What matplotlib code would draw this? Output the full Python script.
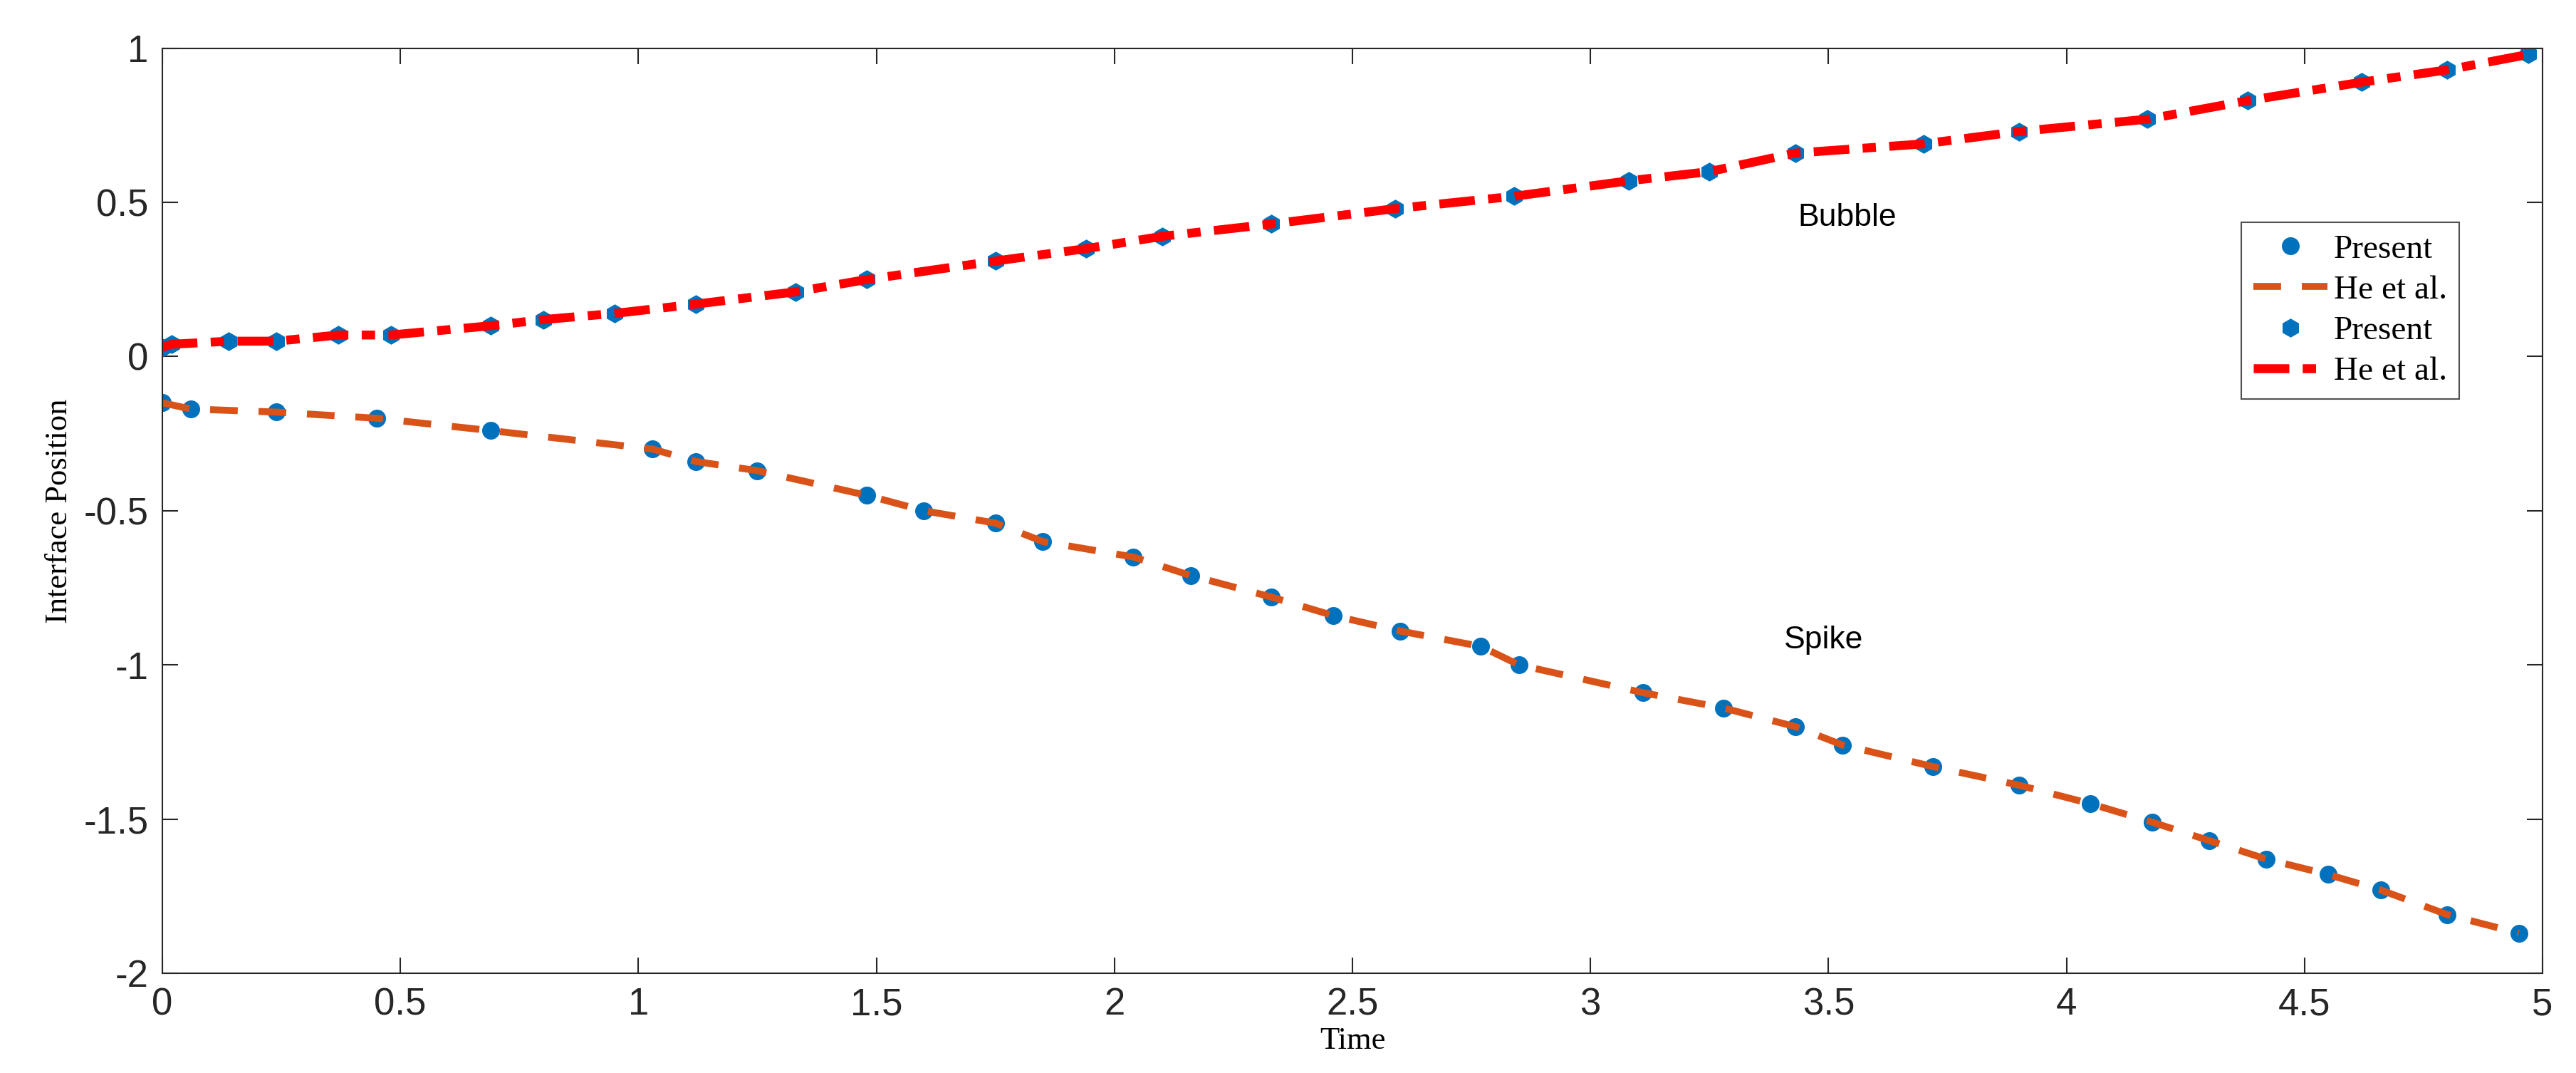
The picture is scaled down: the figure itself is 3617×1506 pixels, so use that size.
import matplotlib
matplotlib.use("Agg")
import matplotlib.pyplot as plt

# bubble front (upper curve)
t_bub = [0.0, 0.02, 0.14, 0.24, 0.37, 0.48, 0.69, 0.8, 0.95, 1.12, 1.33, 1.48, 1.75, 1.94,
         2.1, 2.33, 2.59, 2.84, 3.08, 3.25, 3.43, 3.7, 3.9, 4.17, 4.38, 4.62, 4.8, 4.97]
y_bub = [0.03, 0.04, 0.05, 0.05, 0.07, 0.07, 0.10, 0.12, 0.14, 0.17, 0.21, 0.25, 0.31, 0.35,
         0.39, 0.43, 0.48, 0.52, 0.57, 0.60, 0.66, 0.69, 0.73, 0.77, 0.83, 0.89, 0.93, 0.98]
# spike front (lower curve)
t_spk = [0.0, 0.06, 0.24, 0.45, 0.69, 1.03, 1.12, 1.25, 1.48, 1.6, 1.75, 1.85, 2.04, 2.16,
         2.33, 2.46, 2.6, 2.77, 2.85, 3.11, 3.28, 3.43, 3.53, 3.72, 3.9, 4.05, 4.18, 4.3,
         4.42, 4.55, 4.66, 4.8, 4.95]
y_spk = [-0.15, -0.17, -0.18, -0.2, -0.24, -0.3, -0.34, -0.37, -0.45, -0.5, -0.54, -0.6,
         -0.65, -0.71, -0.78, -0.84, -0.89, -0.94, -1.0, -1.09, -1.14, -1.2, -1.26, -1.33,
         -1.39, -1.45, -1.51, -1.57, -1.63, -1.68, -1.73, -1.81, -1.87]

BLUE = "#0072BD"; ORANGE = "#D95319"; RED = "#FF0000"

fig = plt.figure(figsize=(36.17, 15.06), dpi=100)
ax = fig.add_axes([0.063, 0.093, 0.924, 0.862])

ax.plot(t_spk, y_spk, "o", color=BLUE, ms=17, label="Present")
ax.plot(t_spk, y_spk, "--", color=ORANGE, lw=7, dashes=(4, 3), label="He et al.")
ax.plot(t_bub, y_bub, "h", color=BLUE, ms=18, label="Present")
ax.plot(t_bub, y_bub, "-.", color=RED, lw=9, dashes=(4, 1.5, 1.5, 1.5), label="He et al.")

ax.set_xlim(0, 5); ax.set_ylim(-2, 1)
ax.set_xticks([0, 0.5, 1, 1.5, 2, 2.5, 3, 3.5, 4, 4.5, 5])
ax.set_xticklabels(["0", "0.5", "1", "1.5", "2", "2.5", "3", "3.5", "4", "4.5", "5"])
ax.set_yticks([-2, -1.5, -1, -0.5, 0, 0.5, 1])
ax.set_yticklabels(["-2", "-1.5", "-1", "-0.5", "0", "0.5", "1"])
ax.tick_params(labelsize=38, direction="in", length=16, width=1.5, colors="#262626",
               top=True, right=True, pad=14)
for lab in ax.get_xticklabels() + ax.get_yticklabels():
    lab.set_fontfamily("Liberation Sans")
for s in ax.spines.values():
    s.set_linewidth(1.5); s.set_color("#262626")

ax.set_xlabel("Time", fontsize=32, family="Liberation Serif", labelpad=4)
ax.set_ylabel("Interface Position", fontsize=32, family="Liberation Serif", labelpad=10)

ax.text(3.54, 0.45, "Bubble", fontsize=32, family="Liberation Sans", ha="center", va="center")
ax.text(3.49, -0.92, "Spike", fontsize=32, family="Liberation Sans", ha="center", va="center")

leg = ax.legend(loc="upper right", bbox_to_anchor=(0.972, 0.83), fancybox=False,
                edgecolor="#262626", prop={"family": "Liberation Serif", "size": 34},
                handlelength=2.2, handletextpad=0.2, borderpad=0.35, labelspacing=0.3)
leg.get_frame().set_linewidth(1.5)

fig.savefig("out.png", dpi=100)
